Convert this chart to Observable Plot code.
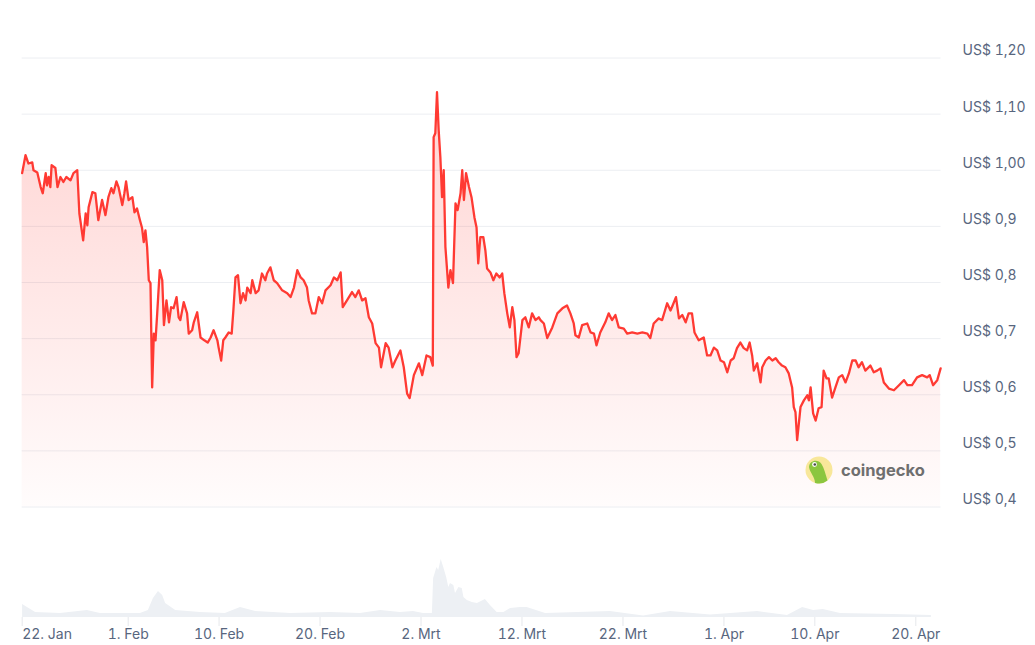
<!DOCTYPE html>
<html><head><meta charset="utf-8">
<script src="https://cdn.jsdelivr.net/npm/d3@7"></script>
<script src="https://cdn.jsdelivr.net/npm/@observablehq/plot@0.6"></script>
<style>
html,body{margin:0;padding:0;background:#fff;}
#chart{position:relative;width:1035px;height:645px;overflow:hidden;font-family:Inter, sans-serif;}
#chart svg{position:absolute;left:0;}
</style></head><body><div id="chart"></div>
<script>
// ---- data ----
const priceTimes = [
"01-21 12","01-21 20","01-22 03","01-22 12","01-22 15","01-23 00","01-23 08","01-23 13","01-23 20","01-23 23",
"01-24 03","01-24 07","01-24 10","01-24 19","01-25 00","01-25 07","01-25 14","01-25 21","01-26 07","01-26 14",
"01-26 23","01-27 04","01-27 13","01-27 19","01-27 23","01-28 02","01-28 11","01-28 18","01-29 01","01-29 10",
"01-29 18","01-30 01","01-30 08","01-30 13","01-30 20","01-31 01","01-31 10","01-31 15","01-31 19","02-01 01",
"02-01 10","02-01 15","02-01 21","02-02 04","02-02 09","02-02 13","02-02 17","02-02 21","02-03 01","02-03 05",
"02-03 09","02-03 13","02-03 17","02-03 21","02-04 03","02-04 09","02-04 13","02-04 19","02-05 01","02-05 06",
"02-05 12","02-05 19","02-06 00","02-06 04","02-06 12","02-06 20","02-07 00","02-07 08","02-07 12","02-07 20",
"02-08 04","02-08 13","02-08 21","02-09 04","02-09 11","02-09 20","02-09 23","02-10 05","02-10 10","02-10 15",
"02-10 23","02-11 06","02-11 10","02-11 15","02-11 21","02-12 03","02-12 09","02-12 15","02-12 19","02-13 03",
"02-13 07","02-13 15","02-13 22","02-14 06","02-14 14","02-14 18","02-15 02","02-15 10","02-15 18","02-16 06",
"02-16 18","02-17 02","02-17 10","02-17 18","02-18 02","02-18 09","02-18 17","02-18 21","02-19 05","02-19 13",
"02-19 21","02-20 05","02-20 13","02-21 01","02-21 09","02-21 17","02-22 01","02-22 06","02-22 16","02-23 04",
"02-23 12","02-23 20","02-24 04","02-24 12","02-24 20","02-25 04","02-25 12","02-25 20","02-26 01","02-26 12",
"02-26 19","02-27 04","02-27 11","02-27 23","02-28 07","02-28 15","02-28 21","03-01 07","03-01 19","03-02 03",
"03-02 13","03-02 22","03-03 04","03-03 06","03-03 10","03-03 14","03-03 18","03-03 22","03-04 02","03-04 06",
"03-04 10","03-04 17","03-04 22","03-05 04","03-05 10","03-05 15","03-05 22","03-06 02","03-06 06","03-06 11",
"03-06 18","03-07 00","03-07 07","03-07 12","03-07 16","03-07 21","03-08 04","03-08 09","03-08 13","03-08 21",
"03-09 04","03-09 11","03-09 19","03-10 01","03-10 06","03-10 13","03-10 19","03-11 01","03-11 06","03-11 11",
"03-11 16","03-12 01","03-12 08","03-12 16","03-13 00","03-13 08","03-13 16","03-13 20","03-14 04","03-14 12",
"03-15 00","03-15 12","03-16 00","03-16 11","03-16 19","03-17 03","03-17 07","03-17 15","03-17 23","03-18 11",
"03-18 19","03-19 03","03-19 09","03-19 18","03-20 06","03-20 14","03-20 22","03-21 06","03-21 14","03-22 02",
"03-22 10","03-22 22","03-23 10","03-23 22","03-24 10","03-24 17","03-25 01","03-25 13","03-25 21","03-26 09",
"03-26 17","03-26 22","03-27 06","03-27 13","03-27 21","03-28 05","03-28 12","03-28 20","03-29 02","03-29 12",
"03-30 00","03-30 08","03-30 16","03-31 00","03-31 08","03-31 16","04-01 00","04-01 08","04-01 16","04-01 23",
"04-02 07","04-02 15","04-02 23","04-03 07","04-03 13","04-03 19","04-03 23","04-04 07","04-04 15","04-04 19",
"04-05 03","04-05 11","04-05 19","04-06 03","04-06 10","04-06 18","04-07 02","04-07 10","04-07 18","04-07 22",
"04-08 02","04-08 06","04-08 14","04-08 22","04-09 06","04-09 10","04-09 14","04-09 20","04-10 02","04-10 09",
"04-10 16","04-10 21","04-11 04","04-11 09","04-11 17","04-12 01","04-12 09","04-12 17","04-13 01","04-13 09",
"04-13 17","04-14 01","04-14 08","04-14 16","04-15 00","04-15 12","04-15 20","04-16 04","04-16 12","04-16 20",
"04-17 08","04-17 20","04-18 08","04-18 20","04-19 04","04-19 15","04-20 03","04-20 15","04-21 03","04-21 09",
"04-21 17","04-22 03","04-22 11"
];
const prices = [
0.995,1.027,1.012,1.014,1.000,0.996,0.970,0.959,0.995,0.973,
0.988,0.970,1.009,1.004,0.970,0.988,0.979,0.988,0.982,0.995,
1.000,0.923,0.875,0.923,0.902,0.934,0.961,0.959,0.911,0.947,
0.920,0.952,0.968,0.959,0.980,0.970,0.938,0.959,0.980,0.947,
0.952,0.925,0.932,0.911,0.897,0.872,0.893,0.863,0.804,0.799,
0.613,0.709,0.697,0.745,0.822,0.804,0.724,0.768,0.729,0.756,
0.754,0.774,0.738,0.733,0.765,0.745,0.709,0.715,0.729,0.747,
0.702,0.697,0.693,0.702,0.715,0.697,0.684,0.661,0.697,0.702,
0.711,0.709,0.750,0.809,0.813,0.763,0.781,0.768,0.791,0.781,
0.804,0.781,0.786,0.816,0.804,0.816,0.827,0.804,0.799,0.786,
0.781,0.774,0.791,0.822,0.809,0.804,0.791,0.768,0.745,0.745,
0.774,0.763,0.786,0.795,0.809,0.804,0.818,0.756,0.768,0.783,
0.774,0.786,0.768,0.772,0.738,0.727,0.692,0.684,0.649,0.692,
0.684,0.649,0.661,0.679,0.649,0.602,0.594,0.635,0.656,0.635,
0.670,0.667,0.652,1.059,1.066,1.139,1.071,1.023,0.952,1.000,
0.863,0.791,0.822,0.799,0.941,0.929,0.959,1.000,0.947,0.995,
0.970,0.952,0.916,0.898,0.834,0.881,0.881,0.857,0.825,0.818,
0.804,0.816,0.809,0.816,0.781,0.745,0.720,0.756,0.733,0.667,
0.674,0.733,0.738,0.720,0.745,0.733,0.738,0.733,0.727,0.701,
0.720,0.745,0.754,0.759,0.745,0.727,0.706,0.702,0.724,0.727,
0.711,0.709,0.688,0.711,0.729,0.745,0.733,0.742,0.720,0.718,
0.709,0.711,0.709,0.711,0.709,0.701,0.727,0.736,0.733,0.763,
0.750,0.759,0.774,0.736,0.742,0.729,0.745,0.745,0.711,0.697,
0.702,0.670,0.670,0.684,0.679,0.661,0.658,0.640,0.661,0.665,
0.683,0.693,0.683,0.679,0.693,0.670,0.643,0.656,0.622,0.649,
0.661,0.667,0.661,0.665,0.658,0.652,0.649,0.638,0.613,0.578,
0.569,0.519,0.578,0.590,0.599,0.590,0.613,0.567,0.554,0.576,
0.578,0.643,0.629,0.629,0.595,0.613,0.631,0.635,0.622,0.638,
0.661,0.661,0.649,0.658,0.643,0.652,0.640,0.643,0.647,0.622,
0.611,0.608,0.617,0.626,0.617,0.617,0.631,0.635,0.631,0.635,
0.617,0.626,0.647
];
const volTimes = [
"01-21 13","01-22 20","01-25 07","01-27 23","01-29 06","02-02 05","02-03 00","02-03 12","02-04 00","02-04 10",
"02-04 17","02-05 17","02-08 04","02-10 15","02-12 03","02-13 15","02-17 02","02-21 01","02-24 00","02-26 00",
"02-27 23","03-01 06","03-02 06","03-03 03","03-03 06","03-03 14","03-03 18","03-04 00","03-04 06","03-04 13",
"03-04 18","03-04 22","03-05 06","03-05 10","03-05 18","03-06 02","03-06 06","03-06 14","03-07 02","03-07 14",
"03-08 09","03-08 21","03-09 13","03-10 05","03-10 21","03-11 20","03-12 12","03-13 03","03-14 08","03-20 18",
"03-24 01","03-26 17","03-30 16","04-04 08","04-07 07","04-08 19","04-09 21","04-10 20","04-12 13","04-17 19",
"04-21 13"
];
const volumes = [
13,5,4,7,4,4,7,19,26,22,
14,7,5,4,10,6,4,5,4,7,
5,6,4,4,39,50,47,58,50,40,
30,34,32,24,30,29,20,17,15,14,
18,12,5,5,9,10,10,8,4,6,
1.5,6,2.5,6,2,10,7,8,4,3,
2
];
const yTicks = [0.4,0.5,0.6,0.7,0.8,0.9,1.0,1.1,1.2];
const xTickDates = ["01-22 00","02-01 00","02-10 00","02-20 00","03-02 00","03-12 00","03-22 00","04-01 00","04-10 00","04-20 00"];
const xTickLabels = ["22. Jan","1. Feb","10. Feb","20. Feb","2. Mrt","12. Mrt","22. Mrt","1. Apr","10. Apr","20. Apr"];
const domainStart = "01-21 12", domainEnd = "04-22 12";

// ---- build ----
const parseT = t => d3.utcParse("%Y-%m-%d %H")("2025-" + t);
const priceData = priceTimes.map((t, i) => ({date: parseT(t), price: prices[i]}));
const volData = volTimes.map((t, i) => ({date: parseT(t), vol: volumes[i]}));
const xTicks = xTickDates.map(parseT);
const labelMap = new Map(xTicks.map((d, i) => [+d, xTickLabels[i]]));
const xDomain = [parseT(domainStart), parseT(domainEnd)];
const fmtY = d => "US$ " + (d >= 1 ? d.toFixed(2) : d.toFixed(1)).replace(".", ",");

const labelColor = "#58667e";
const W = 1035, mL = 21.65, mR = 94.45;

const main = Plot.plot({
  width: W, height: 520,
  marginLeft: mL, marginRight: mR, marginTop: 57.5, marginBottom: 13.5,
  style: {fontFamily: "Inter, sans-serif", fontSize: "14px", color: labelColor, background: "transparent", overflow: "visible"},
  x: {type: "utc", domain: xDomain, axis: null},
  y: {domain: [0.4, 1.2], axis: null},
  marks: [
    Plot.ruleY(yTicks, {stroke: "#eceef2", strokeWidth: 1}),
    Plot.areaY(priceData, {x: "date", y1: 0.4, y2: "price", fill: "url(#priceGrad)"}),
    Plot.lineY(priceData, {x: "date", y: "price", stroke: "#ff3a33", strokeWidth: 2.3, strokeLinejoin: "round"}),
    Plot.axisY(yTicks, {anchor: "right", label: null, tickSize: 0, tickPadding: 21.5, textAnchor: "start", dy: -7, tickFormat: fmtY, fill: labelColor})
  ]
});

const svgMain = d3.select(main);
const defs = svgMain.insert("defs", ":first-child");
const grad = defs.append("linearGradient").attr("id", "priceGrad").attr("x1", 0).attr("y1", 0).attr("x2", 0).attr("y2", 1);
grad.append("stop").attr("offset", "0%").attr("stop-color", "#ff3a33").attr("stop-opacity", 0.22);
grad.append("stop").attr("offset", "100%").attr("stop-color", "#ff3a33").attr("stop-opacity", 0.015);

// coingecko watermark
const logo = svgMain.append("g").attr("transform", "translate(819,470)");
logo.append("circle").attr("r", 13.5).attr("fill", "#f8e79a");
logo.append("path").attr("d", "M-10,-3 C-9.5,-10 -1,-11.5 2.5,-6 C5,-2 6.5,4 8.5,10.5 A13.5 13.5 0 0 1 -4,12.9 C-4,7 -9,3 -10,-3 Z").attr("fill", "#8cc63f");
logo.append("circle").attr("cx", -4.5).attr("cy", -5.5).attr("r", 2.4).attr("fill", "#ffffff");
logo.append("circle").attr("cx", -4.2).attr("cy", -5.5).attr("r", 1.3).attr("fill", "#4a4a4a");
svgMain.append("text").attr("x", 841).attr("y", 470).attr("dominant-baseline", "central")
  .attr("text-anchor", "start")
  .attr("font-family", "Inter, sans-serif").attr("font-size", 16.5).attr("font-weight", 700)
  .attr("fill", "#6f6f6f").text("coingecko");

const vol = Plot.plot({
  width: W, height: 125,
  marginLeft: mL, marginRight: mR, marginTop: 0, marginBottom: 28,
  style: {fontFamily: "Inter, sans-serif", fontSize: "14px", color: labelColor, background: "transparent", overflow: "visible"},
  x: {type: "utc", domain: xDomain, axis: null},
  y: {domain: [0, 58], range: [97, 39], axis: null},
  marks: [
    Plot.areaY(volData, {x: "date", y: "vol", fill: "#edf0f4"}),
    Plot.axisX(xTicks.slice(0, 1), {anchor: "bottom", label: null, tickSize: 9, tickPadding: 3, stroke: "#e6e8ec", fill: labelColor, textAnchor: "start", dx: -5, tickFormat: d => labelMap.get(+d)}),
    Plot.axisX(xTicks.slice(1), {anchor: "bottom", label: null, tickSize: 9, tickPadding: 3, stroke: "#e6e8ec", fill: labelColor, tickFormat: d => labelMap.get(+d)})
  ]
});

const chart = document.getElementById("chart");
main.style.top = "0px";
vol.style.top = "520px";
chart.appendChild(main);
chart.appendChild(vol);
</script>
</body></html>
